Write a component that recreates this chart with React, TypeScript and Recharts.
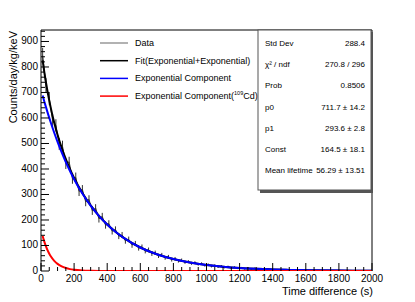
import React from 'react';
import { ComposedChart, Line, XAxis, YAxis, ErrorBar, ReferenceLine } from 'recharts';

// measured data (20 s bins)
const binTime = [
  10, 30, 50, 70, 90, 110, 130, 150, 170, 190, 210, 230, 250, 270, 290, 310, 330, 350, 370, 390,
  410, 430, 450, 470, 490, 510, 530, 550, 570, 590, 610, 630, 650, 670, 690, 710, 730, 750, 770, 790,
  810, 830, 850, 870, 890, 910, 930, 950, 970, 990, 1010, 1030, 1050, 1070, 1090, 1110, 1130, 1150, 1170, 1190,
  1210, 1230, 1250, 1270, 1290, 1310, 1330, 1350, 1370, 1390,
];
const binRate = [
  845, 728, 676, 590, 571, 498, 489, 421, 428, 362, 367, 312, 320, 271, 281, 236, 247, 205, 214, 180,
  186, 156, 163, 137, 141, 118, 124, 102, 108, 90, 95, 78, 83, 68, 72, 59, 63, 51, 56, 44,
  48, 39, 43, 34, 37, 30, 33, 26, 29, 22, 25, 19, 22, 16, 19, 14, 17, 12, 15, 10,
  13, 9, 12, 8, 10, 7, 9, 6, 8, 5,
];
const binErr = [
  30, 28, 26, 25, 24, 23, 22, 21, 20, 20, 19, 18, 17, 17, 16, 16, 15, 15, 14, 14,
  13, 13, 12, 12, 12, 11, 11, 11, 10, 10, 9, 9, 9, 9, 8, 8, 8, 7, 7, 7,
  7, 6, 6, 6, 6, 6, 5, 5, 5, 5, 5, 5, 4, 4, 4, 4, 4, 4, 3, 3,
  3, 3, 3, 3, 3, 3, 3, 3, 2, 2,
];

// fitted curves
const fitTime = [10, 20, 30, 40, 50, 60, 80, 100, 125, 150, 175, 200, 250, 300, 350, 400, 450, 500, 600, 700, 800, 900, 1000, 1100, 1200, 1300, 1400, 1500, 1600, 1800, 2000];
const fitTotal = [825.6, 780.1, 739.1, 701.9, 668.0, 636.8, 581.7, 534.1, 482.9, 438.5, 399.5, 364.8, 305.6, 257.0, 216.4, 182.3, 153.7, 129.6, 92.2, 65.6, 46.7, 33.2, 23.6, 16.8, 11.9, 8.5, 6.1, 4.3, 3.1, 1.6, 0.8];
const fitExp = [687.9, 664.8, 642.6, 621.1, 600.3, 580.2, 542.0, 506.3, 465.0, 427.0, 392.2, 360.1, 303.7, 256.2, 216.1, 182.2, 153.7, 129.6, 92.2, 65.6, 46.7, 33.2, 23.6, 16.8, 11.9, 8.5, 6.1, 4.3, 3.1, 1.6, 0.8];
const fitCd = [137.7, 115.3, 96.5, 80.8, 67.7, 56.6, 39.7, 27.8, 17.9, 11.5, 7.3, 4.7, 1.9, 0.8, 0.3, 0.1, 0, 0, 0, 0, 0, 0, 0, 0, 0, 0, 0, 0, 0, 0, 0];

const xTicks = [
  0, 50, 100, 150, 200, 250, 300, 350, 400, 450, 500, 550, 600, 650, 700, 750, 800, 850, 900, 950,
  1000, 1050, 1100, 1150, 1200, 1250, 1300, 1350, 1400, 1450, 1500, 1550, 1600, 1650, 1700, 1750, 1800, 1850, 1900, 1950, 2000,
];
const yTicks = [
  0, 20, 40, 60, 80, 100, 120, 140, 160, 180, 200, 220, 240, 260, 280, 300, 320, 340, 360, 380,
  400, 420, 440, 460, 480, 500, 520, 540, 560, 580, 600, 620, 640, 660, 680, 700, 720, 740, 760, 780,
  800, 820, 840, 860, 880, 900, 920, 940,
];

const legendNames = ['Data', 'Fit(Exponential+Exponential)', 'Exponential Component', 'Exponential Component('];
const legendColors = ['#999999', '#000000', '#0000ff', '#ff0000'];

const statLabels = ['Std Dev', 'χ² / ndf', 'Prob', 'p0', 'p1', 'Const', 'Mean lifetime'];
const statValues = ['288.4', '270.8 / 296', '0.8506', '711.7 ± 14.2', '293.6 ± 2.8', '164.5 ± 18.1', '56.29 ± 13.51'];

const dataRows = binTime.map((t, i) => ({ time: t, rate: binRate[i], err: binErr[i] }));
const fitRows = fitTime.map((t, i) => ({ time: t, total: fitTotal[i], exp: fitExp[i], cd: fitCd[i] }));

const W = 415;
const H = 302;
const LEFT = 41;
const BOTTOM = 271;
const FONT = '"Liberation Sans", Arial, Helvetica, sans-serif';

const XTick = (props: any) => {
  const { x, payload } = props;
  const v = payload.value;
  const major = v % 200 === 0;
  return (
    <g>
      <line x1={x} x2={x} y1={BOTTOM} y2={BOTTOM - (major ? 8 : 4)} stroke="#000" />
      {major && (
        <text x={x} y={282} textAnchor="middle" fontSize={10} fontFamily={FONT} fill="#000">
          {v}
        </text>
      )}
    </g>
  );
};

const YTick = (props: any) => {
  const { y, payload } = props;
  const v = payload.value;
  const major = v % 100 === 0;
  return (
    <g>
      <line x1={LEFT} x2={LEFT + (major ? 8 : 4)} y1={y} y2={y} stroke="#000" />
      {major && (
        <text x={38} y={y + 3} textAnchor="end" fontSize={10} fontFamily={FONT} fill="#000">
          {v}
        </text>
      )}
    </g>
  );
};

const Overlay = () => (
  <svg width={W} height={H} style={{ position: 'absolute', left: 0, top: 0, pointerEvents: 'none' }}>
    {legendNames.map((name, i) => (
      <g key={name}>
        <line x1={100} x2={128} y1={43 + i * 17.7} y2={43 + i * 17.7} stroke={legendColors[i]} strokeWidth={1.5} />
        <text x={135} y={46 + i * 17.7} fontSize={9} fontFamily={FONT} fill="#000">
          {name}
          {i === 3 && (
            <>
              <tspan fontSize={5.5} dy={-4}>109</tspan>
              <tspan dy={4}>Cd)</tspan>
            </>
          )}
        </text>
      </g>
    ))}
    <rect x={260} y={32} width={113} height={161} fill="#555" />
    <rect x={258} y={30} width={113} height={160} fill="#fff" stroke="#555" strokeWidth={1} />
    {statLabels.map((label, i) => (
      <g key={label}>
        <text x={265} y={46 + i * 21.2} fontSize={8} fontFamily={FONT} fill="#000">
          {label}
        </text>
        <text x={365} y={46 + i * 21.2} fontSize={8} fontFamily={FONT} fill="#000" textAnchor="end">
          {statValues[i]}
        </text>
      </g>
    ))}
    <text x={373} y={295} textAnchor="end" fontSize={11} fontFamily={FONT} fill="#000">
      Time difference (s)
    </text>
    <text transform="translate(17, 31) rotate(-90)" textAnchor="end" fontSize={11} fontFamily={FONT} fill="#000">
      Counts/day/kg/keV
    </text>
  </svg>
);

export default function App() {
  return (
    <div style={{ position: 'absolute', left: 0, top: 0, width: W, height: H, background: '#fff' }}>
      <ComposedChart width={W} height={H} data={dataRows} margin={{ top: 30, right: 43, left: 0, bottom: 0 }}>
        <XAxis
          dataKey="time"
          type="number"
          domain={[0, 2000]}
          ticks={xTicks}
          interval={0}
          tick={XTick}
          tickLine={false}
          axisLine={false}
          height={31}
          allowDataOverflow
        />
        <YAxis
          type="number"
          domain={[0, 945]}
          ticks={yTicks}
          interval={0}
          tick={YTick}
          tickLine={false}
          axisLine={{ stroke: '#000' }}
          width={41}
          allowDataOverflow
        />
        <ReferenceLine y={945} stroke="#000" ifOverflow="visible" />
        <ReferenceLine x={2000} stroke="#000" ifOverflow="visible" />
        <Line dataKey="rate" type="linear" stroke="#333" strokeWidth={1} dot={false} isAnimationActive={false}>
          <ErrorBar dataKey="err" width={0} stroke="#333" strokeWidth={1} direction="y" />
        </Line>
        <Line data={fitRows} dataKey="total" type="monotone" stroke="#000" strokeWidth={2} dot={false} isAnimationActive={false} />
        <Line data={fitRows} dataKey="exp" type="monotone" stroke="#0000ff" strokeWidth={2} dot={false} isAnimationActive={false} />
        <Line data={fitRows} dataKey="cd" type="monotone" stroke="#ff0000" strokeWidth={2} dot={false} isAnimationActive={false} />
      </ComposedChart>
      <Overlay />
    </div>
  );
}
